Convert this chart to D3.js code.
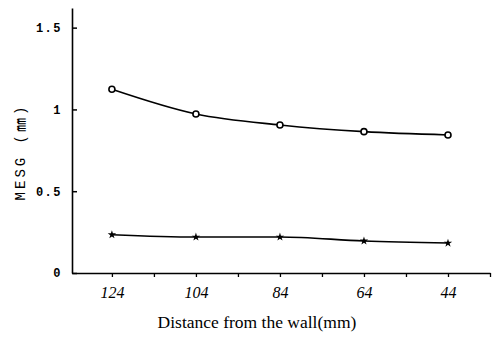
<!DOCTYPE html>
<html>
<head>
<meta charset="utf-8">
<script src="https://cdn.jsdelivr.net/npm/d3@7"></script>
<style>
  body { margin: 0; background: #fff; }
  svg { display: block; }
</style>
</head>
<body>
<svg></svg>
<script>
const width = 492;
const height = 343;

// distances from the wall (mm)
const distances = [124, 104, 84, 64, 44];
const circleSeries = [1.123, 0.972, 0.905, 0.864, 0.844];
const starSeries = [0.234, 0.22, 0.22, 0.196, 0.183];

const xTicks = [124, 114, 104, 94, 84, 74, 64, 54, 44, 34];
const xLabels = [124, 104, 84, 64, 44];
const yTicks = [0, 0.5, 1, 1.5];

const svg = d3.select("svg")
  .attr("width", width)
  .attr("height", height);

const xScale = d3.scaleLinear()
  .domain([133.5, 34])
  .range([72, 490]);

const yScale = d3.scaleLinear()
  .domain([0, 1.62])
  .range([273, 8]);

const xAxis = d3.axisBottom(xScale)
  .tickValues(xTicks)
  .tickSizeInner(4)
  .tickSizeOuter(0)
  .tickPadding(10)
  .tickFormat(d => xLabels.includes(d) ? d : "");

const yAxis = d3.axisLeft(yScale)
  .tickValues(yTicks)
  .tickSizeInner(-5)
  .tickSizeOuter(0)
  .tickPadding(10)
  .tickFormat(d => d === 0 ? "0" : d3.format("")(d));

const gx = svg.append("g")
  .attr("transform", `translate(0,${yScale(0)})`)
  .call(xAxis);

gx.select(".domain").attr("stroke-width", 1.6);
gx.selectAll(".tick line").attr("stroke-width", 1.3);
gx.selectAll("text")
  .attr("font-family", "'Liberation Serif', serif")
  .attr("font-style", "italic")
  .attr("font-size", 16)
  .attr("fill", "#000");

const gy = svg.append("g")
  .attr("transform", `translate(${xScale(133.5)},0)`)
  .call(yAxis);

gy.select(".domain").attr("stroke-width", 1.6);
gy.selectAll(".tick line").attr("stroke-width", 1.5);
gy.selectAll("text")
  .attr("font-family", "'Liberation Mono', monospace")
  .attr("font-size", 12)
  .attr("font-weight", "bold")
  .attr("letter-spacing", 1.5)
  .attr("fill", "#000");

// y axis label
svg.append("text")
  .attr("transform", "rotate(-90)")
  .attr("x", -152)
  .attr("y", 25)
  .attr("text-anchor", "middle")
  .attr("font-family", "'Liberation Mono', 'Noto Sans CJK JP', monospace")
  .attr("font-size", 14)
  .attr("letter-spacing", 3)
  .text("MESG (㎜)");

// x axis label
svg.append("text")
  .attr("x", 257)
  .attr("y", 328)
  .attr("text-anchor", "middle")
  .attr("font-family", "'Liberation Serif', serif")
  .attr("font-size", 17.5)
  .text("Distance from the wall(mm)");

const circleData = distances.map((d, i) => ({ x: d, y: circleSeries[i] }));
const starData = distances.map((d, i) => ({ x: d, y: starSeries[i] }));

const line = d3.line()
  .x(d => xScale(d.x))
  .y(d => yScale(d.y))
  .curve(d3.curveMonotoneX);

svg.append("path")
  .datum(circleData.slice().reverse())
  .attr("d", line)
  .attr("fill", "none")
  .attr("stroke", "#000")
  .attr("stroke-width", 1.6);

svg.append("path")
  .datum(starData.slice().reverse())
  .attr("d", line)
  .attr("fill", "none")
  .attr("stroke", "#000")
  .attr("stroke-width", 1.6);

svg.append("g")
  .selectAll("circle")
  .data(circleData)
  .enter()
  .append("circle")
  .attr("cx", d => xScale(d.x))
  .attr("cy", d => yScale(d.y))
  .attr("r", 3)
  .attr("fill", "#fff")
  .attr("stroke", "#000")
  .attr("stroke-width", 1.6);

svg.append("g")
  .selectAll("path")
  .data(starData)
  .enter()
  .append("path")
  .attr("d", d3.symbol().type(d3.symbolStar).size(22))
  .attr("transform", d => `translate(${xScale(d.x)},${yScale(d.y)})`)
  .attr("fill", "#000");
</script>
</body>
</html>
